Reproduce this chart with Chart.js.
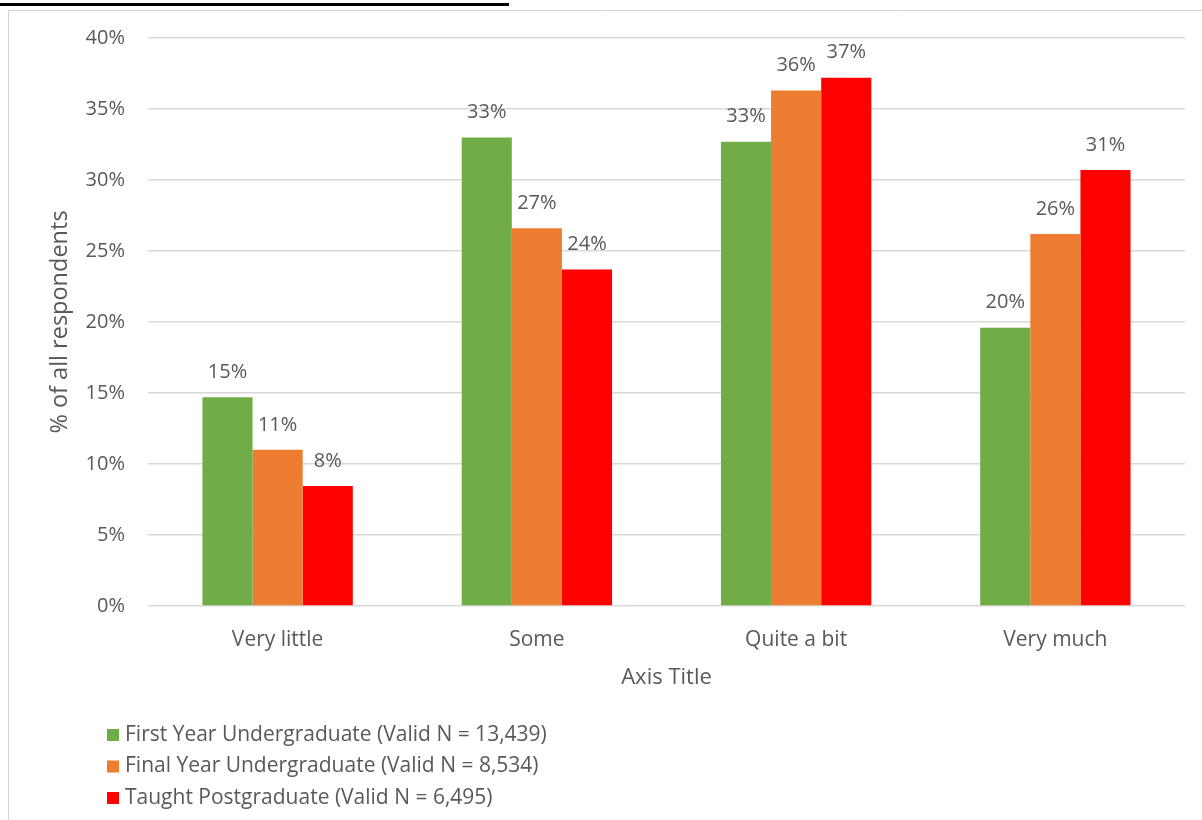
<!DOCTYPE html>
<html>
<head>
<meta charset="utf-8">
<script src="https://cdn.jsdelivr.net/npm/chart.js@4"></script>
<style>
    html, body { margin: 0; padding: 0; background: #fff; }
    canvas { display: block; }
</style>
</head>
<body>
<canvas id="chart" width="1202" height="820"></canvas>
<script>
//=================================================
//Data
//=================================================
const categories = ["Very little", "Some", "Quite a bit", "Very much"];
const seriesNames = [
    "First Year Undergraduate (Valid N = 13,439)",
    "Final Year Undergraduate (Valid N = 8,534)",
    "Taught Postgraduate (Valid N = 6,495)",
];
const firstYear = [14.7, 33.0, 32.7, 19.6];
const finalYear = [11.0, 26.6, 36.3, 26.2];
const postgrad = [8.45, 23.7, 37.2, 30.7];
const yTicks = [0, 5, 10, 15, 20, 25, 30, 35, 40];

const colors = ["#70AD47", "#ED7D31", "#FF0000"];
const textColor = "#595959";
const fontFamily = "'Open Sans', sans-serif";

//=================================================
//Plugins
//=================================================

// value labels above each bar
const barLabels = {
    id: "barLabels",
    afterDatasetsDraw(chart) {
        const ctx = chart.ctx;
        ctx.save();
        ctx.font = "20px " + fontFamily;
        ctx.fillStyle = textColor;
        ctx.textAlign = "center";
        ctx.textBaseline = "middle";
        chart.data.datasets.forEach((ds, i) => {
            chart.getDatasetMeta(i).data.forEach((bar, j) => {
                ctx.fillText(Math.round(ds.data[j]) + "%", bar.x, bar.y - 25);
            });
        });
        ctx.restore();
    },
};

// frame, cut-off heading underline and stacked legend
const frameAndLegend = {
    id: "frameAndLegend",
    beforeDraw(chart) {
        const ctx = chart.ctx;
        ctx.save();
        ctx.strokeStyle = "#d4d4d4";
        ctx.lineWidth = 1;
        ctx.beginPath();
        ctx.moveTo(8.5, 820);
        ctx.lineTo(8.5, 10.5);
        ctx.lineTo(1202, 10.5);
        ctx.stroke();
        ctx.fillStyle = "#000";
        ctx.fillRect(0, 3, 509, 3);
        ctx.restore();
    },
    afterDraw(chart) {
        const ctx = chart.ctx;
        ctx.save();
        ctx.font = "21px " + fontFamily;
        ctx.textBaseline = "middle";
        ctx.textAlign = "left";
        chart.data.datasets.forEach((ds, i) => {
            const y = 734 + i * 31.5;
            ctx.fillStyle = ds.backgroundColor;
            ctx.fillRect(107, y - 5, 12, 12);
            ctx.fillStyle = textColor;
            ctx.fillText(ds.label, 125, y + 1);
        });
        ctx.restore();
    },
};

//=================================================
//Chart.js
//=================================================
const data = {
    labels: categories,
    datasets: [firstYear, finalYear, postgrad].map((values, i) => ({
        label: seriesNames[i],
        data: values,
        backgroundColor: colors[i],
        borderWidth: 0,
        categoryPercentage: 0.58,
        barPercentage: 1.0,
    })),
};

const config = {
    type: "bar",
    data: data,
    options: {
        responsive: false,
        animation: false,
        layout: {
            padding: { top: 38, right: 17, bottom: 129, left: 46 },
        },
        scales: {
            x: {
                grid: { display: false },
                border: { display: false },
                ticks: {
                    color: textColor,
                    padding: 13,
                    font: { size: 21, family: fontFamily },
                },
                title: {
                    display: true,
                    text: "Axis Title",
                    color: textColor,
                    padding: 0,
                    font: { size: 22, family: fontFamily },
                },
                afterFit: (scale) => {
                    scale.height = 85;
                },
            },
            y: {
                min: 0,
                max: 40,
                afterBuildTicks: (scale) => {
                    scale.ticks = yTicks.map((v) => ({ value: v }));
                },
                grid: { color: "#d9d9d9", drawTicks: false, lineWidth: 1.5 },
                border: { display: false },
                ticks: {
                    color: textColor,
                    padding: 23,
                    font: { size: 20, family: fontFamily },
                    callback: (v) => v + "%",
                },
                title: {
                    display: true,
                    text: "% of all respondents",
                    color: textColor,
                    padding: 0,
                    font: { size: 23.5, family: fontFamily },
                },
                afterFit: (scale) => {
                    scale.width = 102;
                },
            },
        },
        plugins: {
            legend: { display: false },
            tooltip: { enabled: false },
        },
    },
    plugins: [barLabels, frameAndLegend],
};

new Chart(document.getElementById("chart"), config);
</script>
</body>
</html>
